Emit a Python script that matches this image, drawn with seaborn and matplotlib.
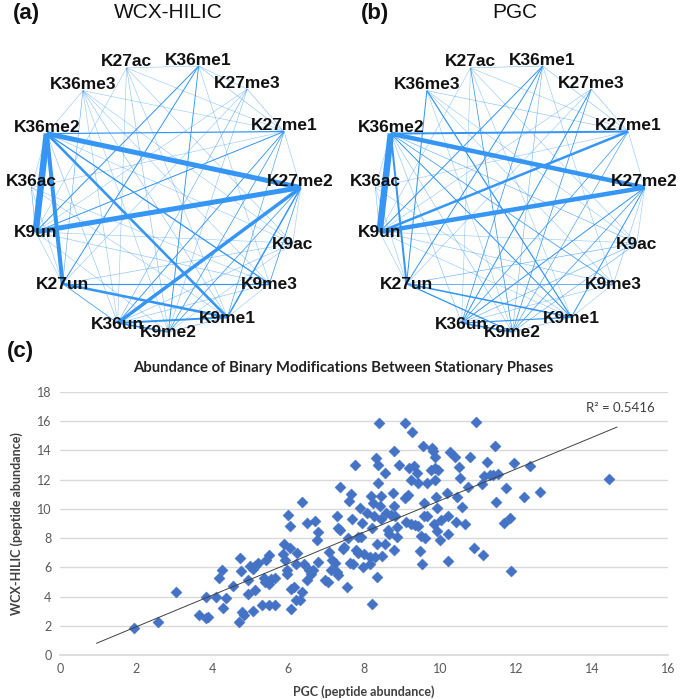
import matplotlib
matplotlib.use('Agg')
import matplotlib.pyplot as plt
import seaborn as sns
import numpy as np
import pandas as pd

sns.set_theme(style='white')
plt.rcParams['font.family'] = ['Liberation Sans', 'DejaVu Sans']

# Network nodes, clockwise from the top, with their angle on the circle (deg)
NODES = ['K27ac', 'K36me1', 'K27me3', 'K27me1', 'K27me2', 'K9ac', 'K9me3',
         'K9me1', 'K9me2', 'K36un', 'K27un', 'K9un', 'K36ac', 'K36me2', 'K36me3']
NODE_ANGLES = [107, 76, 53, 29, 4, -20, -40, -63, -89, -111, -140, -165, 176, 152, 128]

# (source, target, weight) - weight ~ drawn line width in px
EDGES_WCX = [
    ('K36me2', 'K9un', 6.5), ('K36me2', 'K27me2', 5.0), ('K9un', 'K27me2', 5.0),
    ('K36me2', 'K27un', 4.0), ('K27me2', 'K36un', 3.5), ('K36me2', 'K9me1', 2.6),
    ('K27un', 'K9me1', 2.6), ('K36un', 'K9me1', 2.0), ('K36un', 'K9me2', 1.6),
    ('K27me2', 'K9me1', 1.5), ('K36me2', 'K9me3', 1.3), ('K36me2', 'K27me1', 1.2),
    ('K27un', 'K9me3', 1.2), ('K36me1', 'K9un', 1.0), ('K36me1', 'K27un', 1.0),
    ('K36me1', 'K9me2', 0.9), ('K27me1', 'K9un', 1.0), ('K27me1', 'K36un', 0.9),
    ('K27me1', 'K9me2', 0.8), ('K27me2', 'K9me2', 0.8), ('K27me2', 'K9me3', 0.8),
    ('K27un', 'K36un', 0.8), ('K27me1', 'K9me1', 0.7), ('K36me3', 'K27un', 0.6),
    ('K36ac', 'K9un', 0.6), ('K27me3', 'K36un', 0.6), ('K9me2', 'K9me1', 0.6),
    ('K27ac', 'K36me1', 0.3), ('K27ac', 'K9me2', 0.4), ('K27ac', 'K36un', 0.3),
    ('K27ac', 'K9me1', 0.3), ('K27ac', 'K27me1', 0.3), ('K27ac', 'K9ac', 0.3),
    ('K27ac', 'K9un', 0.3), ('K36me3', 'K27me1', 0.3), ('K36me3', 'K9me1', 0.4),
    ('K36me3', 'K9me2', 0.3), ('K36me3', 'K9ac', 0.3), ('K36me3', 'K36un', 0.3),
    ('K36me3', 'K9me3', 0.3), ('K27me3', 'K9me2', 0.4), ('K27me3', 'K27un', 0.3),
    ('K27me3', 'K9un', 0.3), ('K27me3', 'K27me1', 0.4), ('K36me1', 'K27me1', 0.4),
    ('K36me1', 'K27me3', 0.3), ('K36me1', 'K9me3', 0.3), ('K9ac', 'K27un', 0.4),
    ('K9ac', 'K36un', 0.4), ('K9ac', 'K9un', 0.3), ('K9ac', 'K27me2', 0.3),
    ('K9ac', 'K9me2', 0.3), ('K9ac', 'K36me2', 0.3), ('K36ac', 'K9me1', 0.3),
    ('K36ac', 'K27un', 0.3), ('K36ac', 'K27me1', 0.3), ('K36ac', 'K9me3', 0.3),
    ('K36ac', 'K36me2', 0.3), ('K9un', 'K9me3', 0.4), ('K9un', 'K27un', 0.3),
    ('K9un', 'K9me2', 0.3), ('K9me3', 'K36un', 0.4), ('K9me3', 'K9me1', 0.3),
    ('K36me2', 'K36un', 0.4), ('K36me3', 'K36me2', 0.3), ('K27me2', 'K27me1', 0.3),
]

EDGES_PGC = [
    ('K36me2', 'K9un', 6.5), ('K36me2', 'K27me2', 4.5), ('K9un', 'K27me2', 4.5),
    ('K9un', 'K27me1', 2.5), ('K36me2', 'K27me1', 2.0), ('K36me2', 'K27un', 2.0),
    ('K27un', 'K9me1', 1.6), ('K27un', 'K9me2', 1.3), ('K36un', 'K9me2', 1.6),
    ('K36un', 'K9me1', 1.2), ('K36me2', 'K9me1', 1.0), ('K36me3', 'K9me1', 1.2),
    ('K36me3', 'K27un', 1.0), ('K36me1', 'K9un', 1.0), ('K36me1', 'K27un', 1.0),
    ('K36me1', 'K36un', 0.8), ('K27me3', 'K36un', 1.0), ('K27me3', 'K9me2', 0.8),
    ('K27me2', 'K36un', 1.0), ('K27me2', 'K9me1', 1.0), ('K27me2', 'K9me2', 0.8),
    ('K27me1', 'K36un', 0.8), ('K27me1', 'K9me2', 0.7), ('K36me2', 'K9me3', 0.8),
    ('K27un', 'K9me3', 0.8), ('K9ac', 'K27un', 0.6), ('K9ac', 'K36un', 0.6),
    ('K9ac', 'K9me2', 0.6), ('K36me2', 'K9ac', 0.6), ('K27ac', 'K9me2', 0.8),
    ('K27ac', 'K36me1', 0.4), ('K9me2', 'K9me1', 0.6), ('K36ac', 'K9un', 0.4),
    ('K27ac', 'K36un', 0.3), ('K27ac', 'K9me1', 0.3), ('K27ac', 'K27me1', 0.3),
    ('K27ac', 'K9un', 0.3), ('K27ac', 'K9ac', 0.3), ('K36me3', 'K27me1', 0.4),
    ('K36me3', 'K9me2', 0.3), ('K36me3', 'K9ac', 0.3), ('K36me3', 'K9me3', 0.3),
    ('K27me3', 'K27un', 0.3), ('K27me3', 'K9un', 0.3), ('K27me3', 'K27me1', 0.4),
    ('K36me1', 'K27me1', 0.4), ('K36me1', 'K9me2', 0.5), ('K36me1', 'K9me3', 0.3),
    ('K9ac', 'K9un', 0.3), ('K9ac', 'K27me2', 0.3), ('K36ac', 'K9me1', 0.3),
    ('K36ac', 'K27un', 0.3), ('K36ac', 'K27me1', 0.3), ('K36ac', 'K36me2', 0.3),
    ('K9un', 'K9me3', 0.4), ('K9un', 'K27un', 0.3), ('K9un', 'K9me1', 0.3),
    ('K9me3', 'K36un', 0.4), ('K9me3', 'K9me1', 0.3), ('K36me2', 'K36un', 0.4),
    ('K36me2', 'K9me2', 0.4), ('K27me2', 'K27me1', 0.3), ('K27me2', 'K9me3', 0.4),
]

# Scatter: PGC (x) vs WCX-HILIC (y) peptide abundance
PGC_X = [
    1.96, 2.59, 3.06, 3.66, 3.83, 3.83, 3.89, 4.11, 4.19, 4.25, 4.28, 4.37, 4.55,
    4.73, 4.76, 4.72, 4.78, 4.85, 4.95, 4.95, 4.99, 5.09, 5.12, 5.09, 5.14, 5.21,
    5.31, 5.38, 5.39, 5.43, 5.49, 5.51, 5.51, 5.54, 5.65, 5.67, 5.89, 5.86, 5.93,
    5.97, 5.97, 5.99, 6.04, 6.06, 6.08, 6.08, 6.15, 6.20, 6.24, 6.20, 6.32, 6.36,
    6.38, 6.41, 6.49, 6.50, 6.56, 6.61, 6.66, 6.70, 6.75, 6.79, 6.79, 6.98, 7.05,
    7.09, 7.12, 7.16, 7.24, 7.28, 7.30, 7.32, 7.32, 7.36, 7.38, 7.44, 7.48, 7.55,
    7.58, 7.61, 7.63, 7.67, 7.69, 7.72, 7.76, 7.78, 7.84, 7.84, 7.90, 7.93, 7.95,
    7.97, 8.00, 8.07, 8.16, 8.17, 8.18, 8.21, 8.22, 8.23, 8.26, 8.30, 8.31, 8.35,
    8.35, 8.36, 8.38, 8.39, 8.41, 8.45, 8.45, 8.47, 8.54, 8.55, 8.59, 8.62, 8.66,
    8.72, 8.77, 8.78, 8.78, 8.79, 8.81, 8.88, 8.88, 8.93, 9.07, 9.09, 9.11, 9.15,
    9.19, 9.23, 9.24, 9.27, 9.31, 9.35, 9.39, 9.41, 9.42, 9.47, 9.50, 9.52, 9.56,
    9.57, 9.59, 9.61, 9.66, 9.66, 9.77, 9.79, 9.82, 9.85, 9.87, 9.88, 9.88, 9.90,
    9.91, 9.91, 9.96, 10.01, 10.03, 10.18, 10.20, 10.21, 10.21, 10.27, 10.40,
    10.42, 10.44, 10.51, 10.53, 10.59, 10.65, 10.74, 10.80, 10.90, 10.95, 11.11,
    11.14, 11.15, 11.24, 11.31, 11.40, 11.45, 11.47, 11.53, 11.68, 11.74, 11.83,
    11.87, 11.94, 12.22, 12.37, 12.63, 14.44,
]
WCX_Y = [
    1.85, 2.29, 4.30, 2.72, 3.96, 2.54, 2.63, 3.96, 5.29, 5.79, 3.20, 3.89, 4.72,
    6.66, 5.72, 2.24, 2.93, 2.77, 5.15, 4.19, 6.11, 5.91, 4.42, 2.98, 6.11, 6.30,
    3.43, 5.27, 4.99, 6.48, 6.82, 3.43, 4.88, 5.22, 3.39, 5.29, 7.58, 6.94, 6.48,
    5.79, 5.56, 9.59, 8.86, 7.33, 4.53, 3.16, 4.65, 6.25, 7.01, 3.78, 3.78, 4.30,
    10.44, 6.21, 5.11, 9.05, 5.79, 5.56, 5.79, 9.16, 7.85, 8.43, 6.37, 5.15, 4.99,
    7.05, 5.79, 6.53, 6.30, 9.50, 5.68, 5.45, 8.70, 8.54, 11.52, 7.24, 7.40, 4.65,
    8.04, 10.56, 6.30, 11.01, 9.30, 6.25, 12.98, 7.17, 8.08, 7.01, 10.03, 8.08, 9.05,
    6.02, 6.94, 9.75, 6.71, 6.21, 10.88, 8.66, 3.46, 10.37, 9.50, 6.71, 13.46, 5.34,
    7.58, 11.75, 12.98, 15.91, 10.19, 10.88, 9.34, 6.76, 12.48, 7.58, 9.73, 8.54, 8.31,
    9.57, 11.06, 10.21, 7.21, 13.99, 9.50, 8.08, 8.77, 12.98, 10.72, 15.91, 9.12, 10.95,
    12.78, 11.98, 9.00, 15.25, 12.94, 8.88, 12.48, 11.79, 8.84, 7.12, 8.13, 6.25, 14.31,
    9.53, 10.37, 8.04, 11.75, 9.50, 12.66, 14.15, 13.99, 9.00, 13.53, 12.78, 11.98, 10.79,
    10.03, 8.50, 12.66, 7.90, 9.23, 11.10, 9.50, 8.31, 6.41, 13.92, 13.53,
    9.11, 10.79, 12.89, 12.14, 10.14, 9.00, 11.52, 13.53, 7.35, 15.98, 11.68,
    6.82, 12.27, 13.24, 12.32, 12.32, 14.31, 10.49, 12.37, 9.05, 11.40, 9.39,
    5.75, 13.12, 10.83, 12.94, 11.15, 12.04,
]
TREND_RANGE = (0.96, 14.66)
R2_TEXT = 'R² = 0.5416'

EDGE_COLOR = '#3596F5'
POINT_COLOR = '#4472C4'


def node_positions(cx=166, cy=197, r=135):
    pos = {}
    for name, deg in zip(NODES, NODE_ANGLES):
        ang = np.deg2rad(deg)
        pos[name] = (cx + r * np.cos(ang), cy - r * np.sin(ang))
    return pos


def draw_network(ax, edges, letter, title, letter_x, title_x):
    pos = node_positions()
    for src, dst, w in sorted(edges, key=lambda e: e[2]):
        (x0, y0), (x1, y1) = pos[src], pos[dst]
        alpha = min(1.0, 0.25 + 0.85 * w)
        ax.plot([x0, x1], [y0, y1], color=EDGE_COLOR, lw=max(w, 0.6) * 0.72,
                alpha=alpha, solid_capstyle='butt', zorder=1 + w)
    for name, deg in zip(NODES, NODE_ANGLES):
        x, y = pos[name]
        # labels sit a little above the node on the top half, on it below
        dy = -6 if np.sin(np.deg2rad(deg)) > -0.2 else 1
        ax.text(x, y + dy, name, ha='center', va='center', fontsize=12.5,
                fontweight='bold', color='#111111', zorder=20)
    ax.text(letter_x, 13, letter, ha='center', va='center', fontsize=16,
            fontweight='bold', color='#111111')
    ax.text(title_x, 13, title, ha='center', va='center', fontsize=15,
            color='#111111')
    ax.set_xlim(0, 340)
    ax.set_ylim(345, 0)
    ax.axis('off')


fig = plt.figure(figsize=(6.85, 6.99), dpi=100)

ax_a = fig.add_axes([0, 1 - 345 / 699, 340 / 685, 345 / 699])
draw_network(ax_a, EDGES_WCX, '(a)', 'WCX-HILIC', 26, 168)
ax_b = fig.add_axes([344 / 685, 1 - 345 / 699, 340 / 685, 345 / 699])
draw_network(ax_b, EDGES_PGC, '(b)', 'PGC', 31, 171)

# (c) scatter
df = pd.DataFrame({'PGC': PGC_X, 'WCX': WCX_Y})
ax_c = fig.add_axes([60 / 685, 1 - 655 / 699, 608 / 685, 263 / 699])
sns.scatterplot(data=df, x='PGC', y='WCX', marker='D', s=32, color=POINT_COLOR,
                edgecolor=POINT_COLOR, linewidth=0.3, ax=ax_c, zorder=3)
slope, intercept = np.polyfit(df['PGC'], df['WCX'], 1)
xs = np.array(TREND_RANGE)
ax_c.plot(xs, slope * xs + intercept, color='#404040', lw=0.7, zorder=4)
ax_c.text(13.84, 16.9, R2_TEXT, fontsize=9.5, color='#404040', va='center',
          family='Lato')

ax_c.set_xlim(0, 16)
ax_c.set_ylim(0, 18)
ax_c.set_xticks(range(0, 17, 2))
ax_c.set_yticks(range(0, 19, 2))
ax_c.yaxis.grid(True, color='#d9d9d9', lw=1)
ax_c.xaxis.grid(False)
for side in ['left', 'right', 'top']:
    ax_c.spines[side].set_visible(False)
ax_c.spines['bottom'].set_color('#d9d9d9')
ax_c.tick_params(length=0, labelsize=9, labelcolor='#595959', pad=6)
for lab in ax_c.get_xticklabels() + ax_c.get_yticklabels():
    lab.set_family('Lato')
ax_c.set_xlabel('PGC (peptide abundance)', fontsize=9, fontweight='bold',
                color='#404040', family='Lato', labelpad=7)
ax_c.set_ylabel('WCX-HILIC (peptide abundance)', fontsize=9, fontweight='bold',
                color='#404040', family='Lato', labelpad=10)
fig.text(343 / 685, 1 - 368 / 699,
         'Abundance of Binary Modifications Between Stationary Phases',
         ha='center', va='center', fontsize=10.7, fontweight='bold',
         color='#222222', family='Lato')
fig.text(20 / 685, 1 - 352 / 699, '(c)', ha='center', va='center', fontsize=16,
         fontweight='bold', color='#111111')

fig.savefig('out.png', dpi=100)
